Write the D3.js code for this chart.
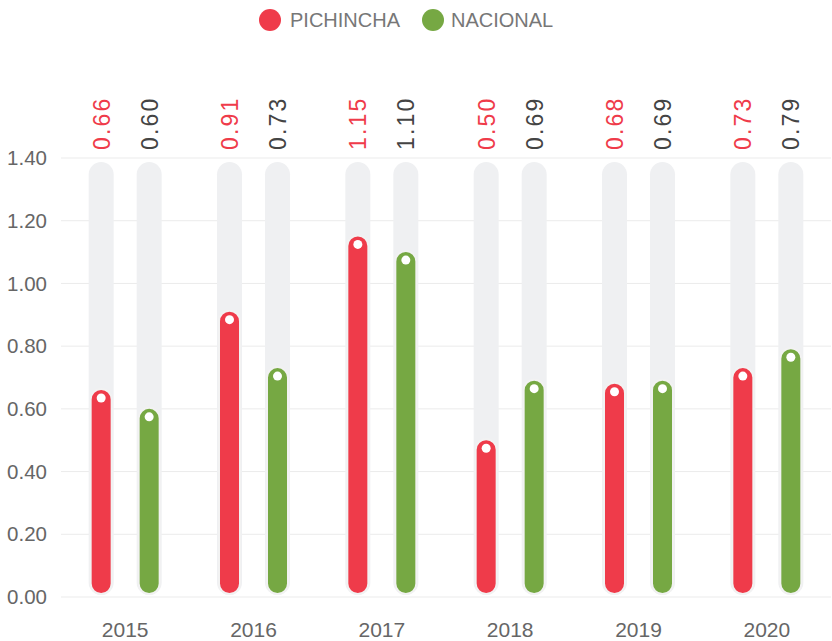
<!DOCTYPE html>
<html><head><meta charset="utf-8">
<script src="https://cdn.jsdelivr.net/npm/d3@7"></script>
<style>body{margin:0;background:#fff;font-family:"Liberation Sans",Arial,sans-serif;}</style>
</head><body>
<svg id="c" width="832" height="641" font-family="Liberation Sans, Arial, sans-serif"></svg>
<script>
const years = ["2015","2016","2017","2018","2019","2020"];
const seriesNames = ["PICHINCHA","NACIONAL"];
const pichincha = [0.66,0.91,1.15,0.50,0.68,0.73];
const nacional = [0.60,0.73,1.10,0.69,0.69,0.79];
const yTicks = [0,0.2,0.4,0.6,0.8,1.0,1.2,1.4];
const colors = ["#ef3b4a","#76a843"];
const labelColors = ["#ef3b4a","#444444"];

(function(){
const svg = d3.select("#c");
const pL = 61, pR = 831, pT = 158, pB = 597;
const x = d3.scaleBand().domain(years).range([pL,pR]);
const y = d3.scaleLinear().domain([0,1.4]).range([pB,pT]);
const off = d3.scaleOrdinal().domain(seriesNames).range([-24,24]);

svg.append("g").selectAll("line").data(yTicks).join("line")
  .attr("x1",pL).attr("x2",pR)
  .attr("y1",d=>y(d)).attr("y2",d=>y(d))
  .attr("stroke","#ebebeb").attr("stroke-width",1);

svg.append("g").selectAll("text").data(yTicks).join("text")
  .attr("x",47).attr("y",d=>y(d)).attr("dy","0.35em")
  .attr("text-anchor","end").attr("font-size",20.5).attr("fill","#666")
  .text(d=>d3.format(".2f")(d));

svg.append("g").selectAll("text").data(years).join("text")
  .attr("x",d=>x(d)+x.bandwidth()/2).attr("y",637)
  .attr("text-anchor","middle").attr("font-size",21).attr("fill","#666")
  .text(d=>d);

const data = [];
years.forEach((yr,i)=>{
  data.push({yr, s:"PICHINCHA", v:pichincha[i], k:0});
  data.push({yr, s:"NACIONAL", v:nacional[i], k:1});
});
const cx = d=>x(d.yr)+x.bandwidth()/2+off(d.s);

const bgW = 25;
svg.append("g").selectAll("rect").data(data).join("rect")
  .attr("x",d=>cx(d)-bgW/2).attr("width",bgW)
  .attr("y",y(1.4)+4).attr("height",pB-2-(y(1.4)+4))
  .attr("rx",bgW/2).attr("fill","#eff0f2");

const bw = 21;
svg.append("g").selectAll("rect").data(data).join("rect")
  .attr("x",d=>cx(d)-bw/2).attr("width",bw)
  .attr("y",d=>y(d.v)-1).attr("height",d=>pB-3-(y(d.v)-1))
  .attr("rx",bw/2).attr("fill",d=>colors[d.k])
  .attr("stroke","#f2f2f2").attr("stroke-width",2);

svg.append("g").selectAll("circle").data(data).join("circle")
  .attr("cx",d=>cx(d)).attr("cy",d=>y(d.v)+8).attr("r",4.5).attr("fill","#fff");

svg.append("g").selectAll("text").data(data).join("text")
  .attr("transform",d=>`translate(${cx(d)+8.5},150) rotate(-90)`)
  .attr("text-anchor","start").attr("font-size",23)
  .attr("letter-spacing",2.2)
  .attr("fill",d=>labelColors[d.k])
  .text(d=>d3.format(".2f")(d.v));

const leg = [{n:"PICHINCHA",cx:270,tx:290},{n:"NACIONAL",cx:433,tx:451}];
leg.forEach((l,i)=>{
  svg.append("circle").attr("cx",l.cx).attr("cy",20).attr("r",11).attr("fill",colors[i]);
  svg.append("text").attr("x",l.tx).attr("y",20).attr("dy","0.35em")
    .attr("font-size",20).attr("fill","#777").text(l.n);
});
})();
</script>
</body></html>
